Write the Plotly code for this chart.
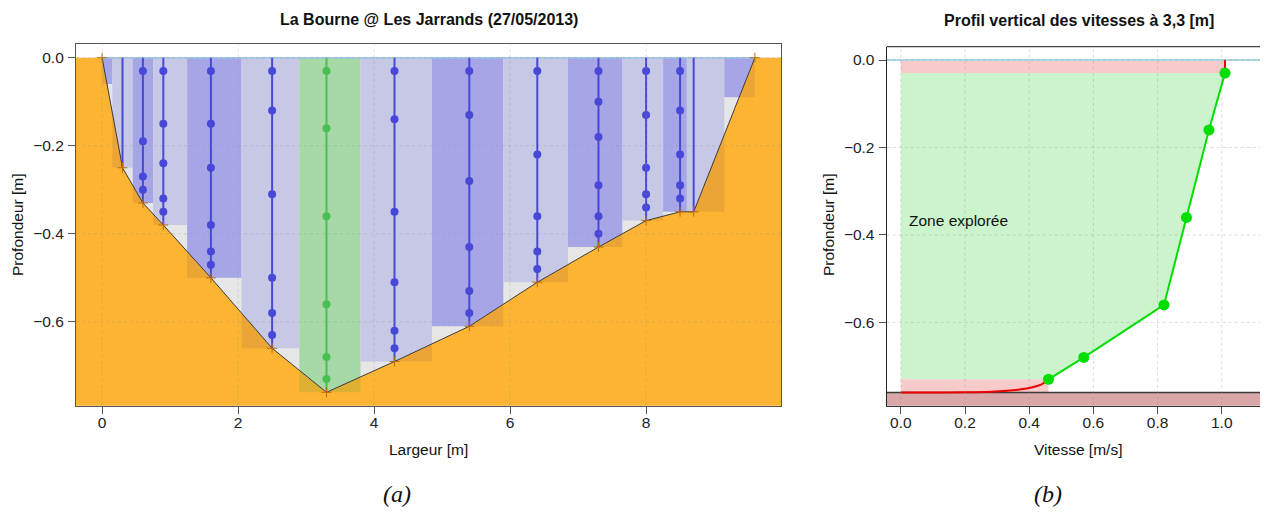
import numpy as np
import plotly.graph_objects as go

# page body has an 8px margin: figure is drawn 8px in from the window corner
OFF = 8
W, H = 1268 - OFF, 512 - OFF

# ---------------- data : left chart (cross-section) ----------------
bed_x = [0.0, 0.3, 0.6, 0.9, 1.6, 2.5, 3.3, 4.3, 5.4, 6.4, 7.3, 8.0, 8.5, 8.7, 9.6]
bed_depth = [0.0, -0.25, -0.33, -0.38, -0.50, -0.66, -0.76, -0.69, -0.61, -0.51, -0.43, -0.37, -0.35, -0.35, 0.0]
panel_depth = [-0.06, -0.25, -0.33, -0.38, -0.50, -0.66, -0.76, -0.69, -0.61, -0.51, -0.43, -0.37, -0.35, -0.35, -0.09]

meas_x = [0.6, 0.9, 1.6, 2.5, 3.3, 4.3, 5.4, 6.4, 7.3, 8.0, 8.5]
meas_depths = [
    [-0.03, -0.19, -0.27, -0.30],
    [-0.03, -0.15, -0.24, -0.32, -0.35],
    [-0.03, -0.15, -0.25, -0.38, -0.44, -0.47],
    [-0.03, -0.12, -0.31, -0.50, -0.58, -0.63],
    [-0.03, -0.16, -0.36, -0.56, -0.68, -0.73],
    [-0.03, -0.14, -0.35, -0.51, -0.62, -0.66],
    [-0.03, -0.13, -0.28, -0.43, -0.53, -0.58],
    [-0.03, -0.22, -0.36, -0.44, -0.48],
    [-0.03, -0.10, -0.18, -0.29, -0.36, -0.40],
    [-0.03, -0.13, -0.25, -0.31, -0.34],
    [-0.03, -0.12, -0.22, -0.29, -0.32],
]
selected_x = 3.3
left_xticks = [0, 2, 4, 6, 8]
depth_ticks = [0.0, -0.2, -0.4, -0.6]

# ---------------- data : right chart (velocity profile) ----------------
prof_v = [1.01, 0.96, 0.89, 0.82, 0.57, 0.46]
prof_d = [-0.03, -0.16, -0.36, -0.56, -0.68, -0.73]
top_ext_v = [1.01, 1.01]
top_ext_d = [-0.03, 0.0]
bot_ext_v = [0.0, 0.10, 0.20, 0.28, 0.33, 0.37, 0.41, 0.44, 0.46]
bot_ext_d = [-0.760, -0.760, -0.7597, -0.7585, -0.7565, -0.7535, -0.748, -0.741, -0.730]
vertical_bed = -0.76
vel_ticks = [0.0, 0.2, 0.4, 0.6, 0.8, 1.0]

# ---------------- styles ----------------
FONT = "Liberation Sans"
ORANGE = "#FDB432"
GRAY_WET = "#E6E6E6"
PANEL_DARK = "#A6A6E6"
PANEL_LIGHT = "#C6C8E6"
PANEL_SEL = "#A7D9A7"
OV_LAV = "#EAA536"
OV_SEL = "#DDB033"
BLUE = "#4848D8"
GREEN_V = "#48C050"
GRID = "rgba(150,150,150,0.33)"

# window-pixel geometry of the plot areas
L_X0, L_X1, L_Y0, L_Y1 = 76, 781, 44.3, 405.7
R_X0, R_Y0, R_Y1 = 886.7, 46.7, 405.7
YR = [-0.7904, 0.0304]


def px(x):
    return (x - OFF) / W


def py(y):
    return 1 - (y - OFF) / H


def bed_at(x):
    return float(np.interp(x, bed_x, bed_depth))


def boundary(x0, x1, d):
    xs = {x0, x1}
    for i in range(len(bed_x) - 1):
        xa, xb = bed_x[i], bed_x[i + 1]
        ya, yb = bed_depth[i], bed_depth[i + 1]
        if x0 < xa < x1:
            xs.add(xa)
        if (ya - d) * (yb - d) < 0:
            xc = xa + (d - ya) * (xb - xa) / (yb - ya)
            if x0 < xc < x1:
                xs.add(xc)
    xs = sorted(xs)
    ys = [max(bed_at(x), d) for x in xs]
    return xs, ys


fig = go.Figure()

# wetted area background
fig.add_trace(go.Scatter(x=bed_x, y=bed_depth, fill="toself", fillcolor=GRAY_WET,
                         mode="none", xaxis="x", yaxis="y", hoverinfo="skip"))
# bed (orange)
ox = [-2.0] + bed_x + [12.0, 12.0, -2.0]
oy = [0.0] + bed_depth + [0.0, -2.0, -2.0]
fig.add_trace(go.Scatter(x=ox, y=oy, fill="toself", fillcolor=ORANGE, mode="none",
                         xaxis="x", yaxis="y", hoverinfo="skip"))

# panels
edges = [bed_x[0]] + [(bed_x[i] + bed_x[i + 1]) / 2 for i in range(len(bed_x) - 1)] + [bed_x[-1]]
for i, d in enumerate(panel_depth):
    x0, x1 = edges[i], edges[i + 1]
    xs, ys = boundary(x0, x1, d)
    sel = abs(bed_x[i] - selected_x) < 1e-9
    col = PANEL_SEL if sel else (PANEL_DARK if i % 2 == 0 else PANEL_LIGHT)
    ov = OV_SEL if sel else OV_LAV
    fig.add_trace(go.Scatter(x=[x0, x1] + xs[::-1], y=[d, d] + ys[::-1], fill="toself",
                             fillcolor=ov, mode="none", xaxis="x", yaxis="y", hoverinfo="skip"))
    fig.add_trace(go.Scatter(x=[x0, x1] + xs[::-1], y=[0, 0] + ys[::-1], fill="toself",
                             fillcolor=col, mode="none", xaxis="x", yaxis="y", hoverinfo="skip"))

# bed outline
fig.add_trace(go.Scatter(x=bed_x, y=bed_depth, mode="lines", line=dict(color="#3a3a3a", width=1),
                         xaxis="x", yaxis="y", hoverinfo="skip"))
# water surface
fig.add_trace(go.Scatter(x=[bed_x[0], bed_x[-1]], y=[0, 0], mode="lines",
                         line=dict(color="#9CC8E8", width=1.5), xaxis="x", yaxis="y", hoverinfo="skip"))

# verticals
for xv, dv in zip(bed_x, bed_depth):
    if dv >= 0:
        continue
    sel = abs(xv - selected_x) < 1e-9
    fig.add_trace(go.Scatter(x=[xv, xv], y=[0, dv], mode="lines",
                             line=dict(color=GREEN_V if sel else BLUE, width=2),
                             xaxis="x", yaxis="y", hoverinfo="skip"))
for xv, ds in zip(meas_x, meas_depths):
    sel = abs(xv - selected_x) < 1e-9
    fig.add_trace(go.Scatter(x=[xv] * len(ds), y=ds, mode="markers",
                             marker=dict(color=GREEN_V if sel else BLUE, size=8),
                             xaxis="x", yaxis="y", hoverinfo="skip"))
# bed point markers
fig.add_trace(go.Scatter(x=bed_x, y=bed_depth, mode="markers",
                         marker=dict(symbol="cross-thin", size=7, line=dict(color="#B86E00", width=1)),
                         xaxis="x", yaxis="y", hoverinfo="skip"))

# ---------------- right chart ----------------
fig.add_trace(go.Scatter(x=[0, prof_v[0], prof_v[0], 0], y=[0, 0, prof_d[0], prof_d[0]], fill="toself",
                         fillcolor="#F8CACA", mode="none", xaxis="x2", yaxis="y2", hoverinfo="skip"))
fig.add_trace(go.Scatter(x=[0] + prof_v + [0], y=[prof_d[0]] + prof_d + [prof_d[-1]], fill="toself",
                         fillcolor="#CCF4CC", mode="none", xaxis="x2", yaxis="y2", hoverinfo="skip"))
fig.add_trace(go.Scatter(x=[0, prof_v[-1], prof_v[-1], 0], y=[prof_d[-1], prof_d[-1], vertical_bed, vertical_bed],
                         fill="toself", fillcolor="#F8CACA", mode="none", xaxis="x2", yaxis="y2",
                         hoverinfo="skip"))
fig.add_trace(go.Scatter(x=[-1, 2, 2, -1, -1], y=[vertical_bed, vertical_bed, -2, -2, vertical_bed],
                         fill="toself", fillcolor="#D9A7A7", mode="lines", line=dict(color="#3a3a3a", width=1.5),
                         xaxis="x2", yaxis="y2", hoverinfo="skip"))
fig.add_trace(go.Scatter(x=[-1, 2], y=[0, 0], mode="lines", line=dict(color="#ADD8E6", width=2),
                         xaxis="x2", yaxis="y2", hoverinfo="skip"))
fig.add_trace(go.Scatter(x=top_ext_v, y=top_ext_d, mode="lines", line=dict(color="#EE0000", width=2),
                         xaxis="x2", yaxis="y2", hoverinfo="skip"))
fig.add_trace(go.Scatter(x=bot_ext_v, y=bot_ext_d, mode="lines", line=dict(color="#EE0000", width=2, shape="spline"),
                         xaxis="x2", yaxis="y2", hoverinfo="skip"))
fig.add_trace(go.Scatter(x=prof_v, y=prof_d, mode="lines+markers", line=dict(color="#00DD00", width=2),
                         marker=dict(color="#00DD00", size=11), xaxis="x2", yaxis="y2", hoverinfo="skip"))

# ---------------- grid shapes ----------------
shapes = []
for t in left_xticks:
    shapes.append(dict(type="line", xref="x", yref="y domain", x0=t, x1=t, y0=0, y1=1,
                       line=dict(color=GRID, width=1, dash="dot"), layer="above"))
for t in depth_ticks:
    shapes.append(dict(type="line", xref="x domain", yref="y", x0=0, x1=1, y0=t, y1=t,
                       line=dict(color=GRID, width=1, dash="dot"), layer="above"))
for t in vel_ticks:
    shapes.append(dict(type="line", xref="x2", yref="y2 domain", x0=t, x1=t, y0=0, y1=1,
                       line=dict(color=GRID, width=1, dash="dot"), layer="above"))
for t in depth_ticks:
    shapes.append(dict(type="line", xref="x2 domain", yref="y2", x0=0, x1=1, y0=t, y1=t,
                       line=dict(color=GRID, width=1, dash="dot"), layer="above"))
shapes.append(dict(type="line", xref="x2 domain", yref="y2 domain", x0=0, x1=1, y0=1, y1=1,
                   line=dict(color="#444", width=1.2), layer="above"))

tickfont = dict(family=FONT, size=15.5, color="#222")
axis_common = dict(showgrid=False, zeroline=False, ticks="outside", ticklen=7, tickcolor="#555",
                   tickfont=tickfont, showline=True, linewidth=1.2)

ann = []


def add_text(x, y, text, size=15.5, angle=0, family=FONT):
    ann.append(dict(x=px(x), y=py(y), xref="paper", yref="paper", text=text, showarrow=False,
                    textangle=angle, font=dict(family=family, size=size, color="#111"),
                    xanchor="center", yanchor="middle"))


add_text((L_X0 + L_X1) / 2, 19.5, "<b>La Bourne @ Les Jarrands (27/05/2013)</b>", size=16)
add_text(1079, 20, "<b>Profil vertical des vitesses à 3,3 [m]</b>", size=16)
add_text((L_X0 + L_X1) / 2, 449, "Largeur [m]")
add_text(1078, 449, "Vitesse [m/s]")
add_text(17, 225, "Profondeur [m]", angle=-90)
add_text(828, 225, "Profondeur [m]", angle=-90)
add_text(397, 494, "<i>(a)</i>", size=24, family="Liberation Serif")
add_text(1048, 494, "<i>(b)</i>", size=24, family="Liberation Serif")
ann.append(dict(x=0.02, y=-0.368, xref="x2", yref="y2", text="Zone explorée", showarrow=False,
                xanchor="left", yanchor="middle", font=dict(family=FONT, size=15.5, color="#111")))

fig.update_layout(
    width=W, height=H, margin=dict(l=0, r=0, t=0, b=0),
    paper_bgcolor="white", plot_bgcolor="white", showlegend=False,
    xaxis=dict(domain=[px(L_X0), px(L_X1)], range=[-0.384, 9.984], tickvals=left_xticks,
               mirror=True, linecolor="#555", anchor="y", ticklabelstandoff=-4, **axis_common),
    yaxis=dict(domain=[py(L_Y1), py(L_Y0)], range=YR, tickvals=depth_ticks, tickformat=".1f",
               mirror=True, linecolor="#555", anchor="x", ticklabelstandoff=1, **axis_common),
    xaxis2=dict(domain=[px(R_X0), 1.0], range=[-0.044, 1.144], tickvals=vel_ticks, tickformat=".1f",
                linecolor="#333", anchor="y2", ticklabelstandoff=-4, **axis_common),
    yaxis2=dict(domain=[py(R_Y1), py(R_Y0)], range=YR, tickvals=depth_ticks, tickformat=".1f",
                linecolor="#222", anchor="x2", ticklabelstandoff=1, **axis_common),
    shapes=shapes, annotations=ann,
)

fig.write_html("out.html")
